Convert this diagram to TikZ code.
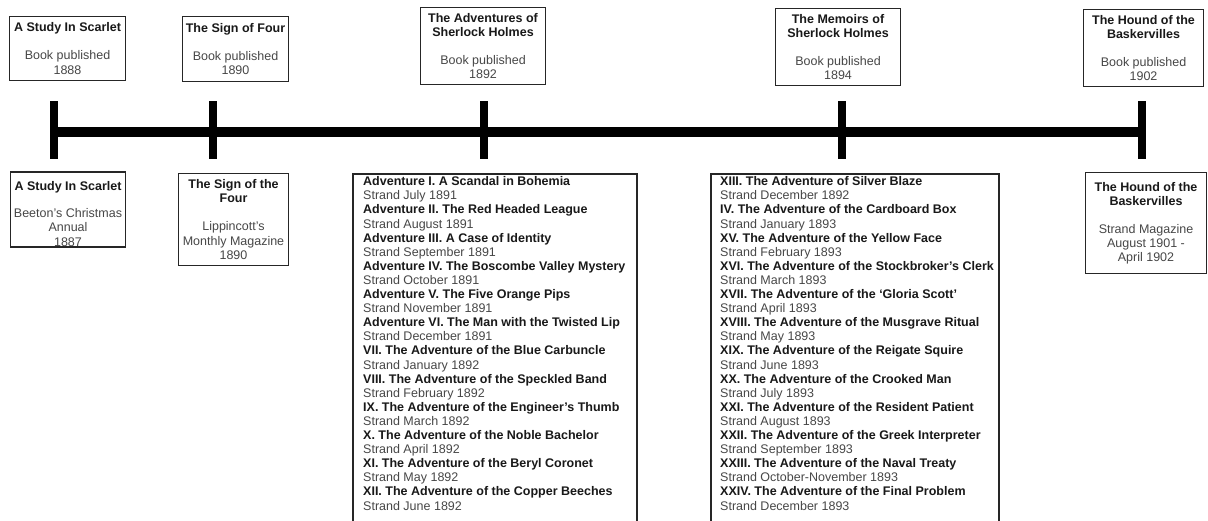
\documentclass[tikz,border=0pt]{standalone}
\usepackage{fontspec}
\setmainfont{Liberation Sans}
\newcommand\bt[1]{{\color{black!90}\bfseries #1}}
\tikzset{
  x=1pt, y=-1pt,
  box/.style={draw=black!85, line width=1.8pt, fill=white, align=center, inner sep=1pt,
    font=\fontsize{12.5}{14.1}\selectfont, text=black!72},
  frame/.style={draw=black!85, line width=1.8pt, anchor=north west, inner sep=0pt},
  listtext/.style={align=left, anchor=north west, inner sep=0pt,
    font=\fontsize{12.5}{14.1}\selectfont, text=black!72},
  bar/.style={line width=10pt, black},
  tickbar/.style={line width=8pt, black}
}
\begin{document}
\begin{tikzpicture}
\clip (0,0) rectangle (1208,520);
\fill[white] (0,0) rectangle (1208,520);

% timeline
\coordinate (L) at (50,132);
\coordinate (R) at (1145,132);
\draw[bar] (L) -- (R);
\foreach \n/\x in {k1/53.5, k2/213, k3/483.5, k4/841.5, k5/1141.5}{
  \coordinate (\n a) at (\x,101);
  \coordinate (\n b) at (\x,159);
  \draw[tickbar] (\n a) -- (\n b);
}

% top boxes
\node[box, minimum width=116pt, minimum height=64pt] (t1) at (67.5,48.5)
  {\bt{A Study In Scarlet}\\[14pt]Book published\\1888};
\node[box, minimum width=106pt, minimum height=65pt] (t2) at (235.5,49)
  {\bt{The Sign of Four}\\[14pt]Book published\\1890};
\node[box, minimum width=125pt, minimum height=77pt] (t3) at (483,46)
  {\bt{The Adventures of}\\\bt{Sherlock Holmes}\\[14pt]Book published\\1892};
\node[box, minimum width=125pt, minimum height=77pt] (t4) at (838,47)
  {\bt{The Memoirs of}\\\bt{Sherlock Holmes}\\[14pt]Book published\\1894};
\node[box, minimum width=120pt, minimum height=77pt] (t5) at (1143.5,48)
  {\bt{The Hound of the}\\\bt{Baskervilles}\\[14pt]Book published\\1902};

% bottom boxes
\node[box, minimum width=115pt, minimum height=70pt] (b1) at (68,209.5)
  {\rule{0pt}{18pt}\bt{A Study In Scarlet}\\[13pt]Beeton's Christmas\\Annual\\1887};
\node[box, minimum width=110pt, minimum height=92pt] (b2) at (233.5,219.5)
  {\bt{The Sign of the}\\\bt{Four}\\[14pt]Lippincott's\\Monthly Magazine\\1890};
\node[box, minimum width=121pt, minimum height=101pt] (b5) at (1146,223)
  {\bt{The Hound of the}\\\bt{Baskervilles}\\[14pt]Strand Magazine\\August 1901 -\\April 1902};

% list boxes
\node[frame, minimum width=284pt, minimum height=380pt] (b3) at (352,173) {};
\node[listtext] (b3t) at (363,176.5) {%
\bt{Adventure I. A Scandal in Bohemia}\\Strand July 1891\\
\bt{Adventure II. The Red Headed League}\\Strand August 1891\\
\bt{Adventure III. A Case of Identity}\\Strand September 1891\\
\bt{Adventure IV. The Boscombe Valley Mystery}\\Strand October 1891\\
\bt{Adventure V. The Five Orange Pips}\\Strand November 1891\\
\bt{Adventure VI. The Man with the Twisted Lip}\\Strand December 1891\\
\bt{VII. The Adventure of the Blue Carbuncle}\\Strand January 1892\\
\bt{VIII. The Adventure of the Speckled Band}\\Strand February 1892\\
\bt{IX. The Adventure of the Engineer's Thumb}\\Strand March 1892\\
\bt{X. The Adventure of the Noble Bachelor}\\Strand April 1892\\
\bt{XI. The Adventure of the Beryl Coronet}\\Strand May 1892\\
\bt{XII. The Adventure of the Copper Beeches}\\Strand June 1892};

\node[frame, minimum width=288pt, minimum height=380pt] (b4) at (710,173) {};
\node[listtext] (b4t) at (720,176.5) {%
\bt{XIII. The Adventure of Silver Blaze}\\Strand December 1892\\
\bt{IV. The Adventure of the Cardboard Box}\\Strand January 1893\\
\bt{XV. The Adventure of the Yellow Face}\\Strand February 1893\\
\bt{XVI. The Adventure of the Stockbroker's Clerk}\\Strand March 1893\\
\bt{XVII. The Adventure of the `Gloria Scott'}\\Strand April 1893\\
\bt{XVIII. The Adventure of the Musgrave Ritual}\\Strand May 1893\\
\bt{XIX. The Adventure of the Reigate Squire}\\Strand June 1893\\
\bt{XX. The Adventure of the Crooked Man}\\Strand July 1893\\
\bt{XXI. The Adventure of the Resident Patient}\\Strand August 1893\\
\bt{XXII. The Adventure of the Greek Interpreter}\\Strand September 1893\\
\bt{XXIII. The Adventure of the Naval Treaty}\\Strand October-November 1893\\
\bt{XXIV. The Adventure of the Final Problem}\\Strand December 1893};
\end{tikzpicture}
\end{document}
